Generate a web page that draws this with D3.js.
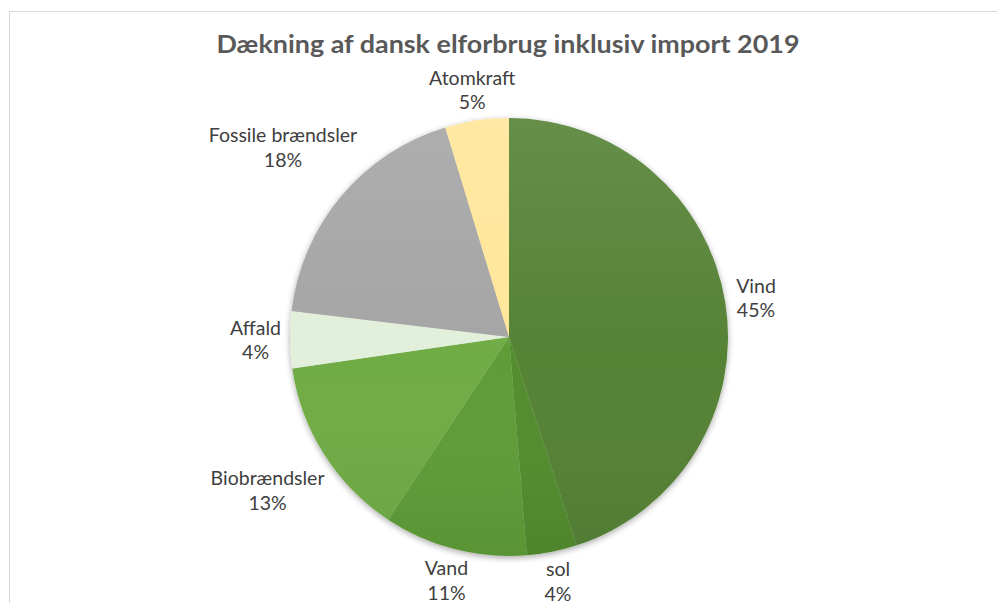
<!DOCTYPE html>
<html>
<head>
<meta charset="utf-8">
<script src="https://cdn.jsdelivr.net/npm/d3@7"></script>
<style>
  body { margin: 0; background: #fff; }
  svg { display: block; }
  text { font-family: Lato, "Noto Sans", sans-serif; }
</style>
</head>
<body>
<div id="chart"></div>
<script>
/***** Data *****/
var titleText = "Dækning af dansk elforbrug inklusiv import 2019";
var categories = ["Vind", "sol", "Vand", "Biobrændsler", "Affald", "Fossile brændsler", "Atomkraft"];
var shares = [45.0, 3.7, 10.6, 13.4, 4.2, 18.4, 4.7];
var sliceColors = ["#548235", "#528d2e", "#5f9d39", "#6fac45", "#e2efda", "#a5a5a5", "#ffe699"];

/***** Layout *****/
var width = 997, height = 603;
var cx = 509, cy = 337, radius = 219;
var labelDist = 228;      // distance from centre to nearest glyph edge of a label
var fontSize = 19.5;
var lineHeight = 24.5;
var capHeight = 0.72 * fontSize;

var svg = d3.select("#chart").append("svg")
  .attr("width", width)
  .attr("height", height);

var defs = svg.append("defs");

var shadow = defs.append("filter")
  .attr("id", "shadow")
  .attr("x", "-10%").attr("y", "-10%")
  .attr("width", "120%").attr("height", "120%");
shadow.append("feGaussianBlur").attr("in", "SourceAlpha").attr("stdDeviation", 3);
shadow.append("feOffset").attr("dy", 2).attr("result", "blur");
shadow.append("feComponentTransfer").append("feFuncA").attr("type", "linear").attr("slope", 0.35);
var merge = shadow.append("feMerge");
merge.append("feMergeNode");
merge.append("feMergeNode").attr("in", "SourceGraphic");

var shade = defs.append("linearGradient")
  .attr("id", "shade")
  .attr("x1", 0).attr("y1", 0).attr("x2", 0).attr("y2", 1);
shade.append("stop").attr("offset", "0%").attr("stop-color", "#fff").attr("stop-opacity", 0.1);
shade.append("stop").attr("offset", "55%").attr("stop-color", "#fff").attr("stop-opacity", 0);
shade.append("stop").attr("offset", "100%").attr("stop-color", "#000").attr("stop-opacity", 0.06);

// chart frame (Excel chart area border, runs off the page right/bottom)
svg.append("rect")
  .attr("x", 9.5).attr("y", 11.5)
  .attr("width", 1100).attr("height", 800)
  .attr("fill", "none")
  .attr("stroke", "#d9d9d9");

svg.append("text")
  .attr("x", 508)
  .attr("y", 53)
  .attr("text-anchor", "middle")
  .attr("font-size", 24)
  .attr("font-weight", 700)
  .attr("fill", "#595959")
  .attr("textLength", 583)
  .attr("lengthAdjust", "spacingAndGlyphs")
  .text(titleText);

var color = d3.scaleOrdinal().domain(categories).range(sliceColors);
var total = d3.sum(shares);
var pct = d3.format(".0%");

var pie = d3.pie().sort(null).value(function(d) { return d.value; });
var arcs = pie(categories.map(function(c, i) { return {name: c, value: shares[i]}; }));
var arc = d3.arc().innerRadius(0).outerRadius(radius);

var g = svg.append("g").attr("transform", "translate(" + cx + "," + cy + ")");

var slices = g.append("g").attr("filter", "url(#shadow)");
slices.selectAll("path")
  .data(arcs)
  .enter().append("path")
  .attr("d", arc)
  .attr("fill", function(d) { return color(d.data.name); });

g.append("circle")
  .attr("r", radius)
  .attr("fill", "url(#shade)")
  .attr("pointer-events", "none");

// labels: push each box out along its mid angle until it clears the pie
var labels = g.selectAll("text.lbl")
  .data(arcs)
  .enter().append("text")
  .attr("class", "lbl")
  .attr("text-anchor", "middle")
  .attr("font-size", fontSize)
  .attr("fill", "#404040");

labels.append("tspan").attr("x", 0).attr("dy", 0).text(function(d) { return d.data.name; });
labels.append("tspan").attr("x", 0).attr("dy", lineHeight).text(function(d) { return pct(d.data.value / total); });

labels.each(function(d) {
  var node = this;
  var bb = node.getBBox();
  // tight glyph box: cap top of first line to baseline of second line
  var top = -capHeight, bottom = lineHeight;
  var hw = bb.width / 2, hh = (bottom - top) / 2;
  var offY = (top + bottom) / 2;
  var a = (d.startAngle + d.endAngle) / 2;
  var sx = Math.sin(a), sy = -Math.cos(a);
  function nearest(t) {
    var bx = sx * t, by = sy * t;
    var nx = Math.max(bx - hw, Math.min(0, bx + hw));
    var ny = Math.max(by - hh, Math.min(0, by + hh));
    return Math.sqrt(nx * nx + ny * ny);
  }
  var lo = 0, hi = 600;
  for (var k = 0; k < 40; k++) {
    var mid = (lo + hi) / 2;
    if (nearest(mid) < labelDist) lo = mid; else hi = mid;
  }
  var t = (lo + hi) / 2;
  d3.select(node).attr("transform", "translate(" + (sx * t) + "," + (sy * t - offY) + ")");
});
</script>
</body>
</html>
